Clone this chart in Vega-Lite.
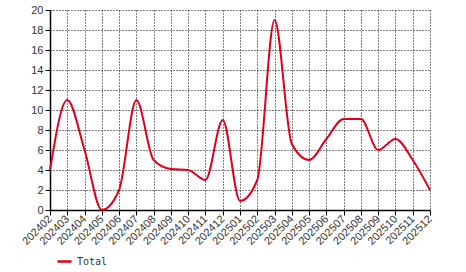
{
  "$schema": "https://vega.github.io/schema/vega-lite/v6.json",
  "width": 380,
  "height": 200,
  "autosize": "none",
  "padding": {"left": 50, "top": 10, "right": 36, "bottom": 62},
  "background": "white",
  "config": {
    "view": {"stroke": null},
    "axis": {"labelFont": "Liberation Sans", "labelFontSize": 11, "labelColor": "#333333", "domainColor": "black", "tickColor": "black", "gridColor": "black", "gridDash": [1, 2], "gridOpacity": 1, "gridWidth": 1}
  },
  "data": {"values": [
    {"m": "202402", "v": 4},
    {"m": "202403", "v": 11},
    {"m": "202404", "v": 6},
    {"m": "202405", "v": 0},
    {"m": "202406", "v": 2},
    {"m": "202407", "v": 11},
    {"m": "202408", "v": 5},
    {"m": "202409", "v": 4.1},
    {"m": "202410", "v": 4},
    {"m": "202411", "v": 3},
    {"m": "202412", "v": 9},
    {"m": "202501", "v": 0.9},
    {"m": "202502", "v": 3},
    {"m": "202503", "v": 19},
    {"m": "202504", "v": 6.6},
    {"m": "202505", "v": 5},
    {"m": "202506", "v": 7.1},
    {"m": "202507", "v": 9.1},
    {"m": "202508", "v": 9.1},
    {"m": "202509", "v": 6},
    {"m": "202510", "v": 7.1},
    {"m": "202511", "v": 5},
    {"m": "202512", "v": 2}
  ]},
  "mark": {"type": "line", "interpolate": "monotone", "strokeWidth": 2},
  "encoding": {
    "x": {"field": "m", "type": "ordinal", "scale": {"type": "point", "padding": 0}, "title": null,
      "axis": {"labelAngle": -45, "labelAlign": "right", "labelBaseline": "middle", "grid": true, "tickSize": 5, "labelPadding": 2, "domainWidth": 1.5}},
    "y": {"field": "v", "type": "quantitative", "scale": {"domain": [0, 20]}, "title": null,
      "axis": {"values": [0, 2, 4, 6, 8, 10, 12, 14, 16, 18, 20], "tickSize": 5, "labelPadding": 2, "domainWidth": 1.5}},
    "color": {"datum": "Total", "scale": {"range": ["#e0001b"]},
      "legend": {"title": null, "orient": "none", "legendX": 6, "legendY": 243, "symbolType": "stroke", "symbolStrokeWidth": 2.5, "symbolSize": 200, "labelFont": "DejaVu Sans Mono", "labelFontSize": 10, "labelColor": "#333333"}}
  }
}
